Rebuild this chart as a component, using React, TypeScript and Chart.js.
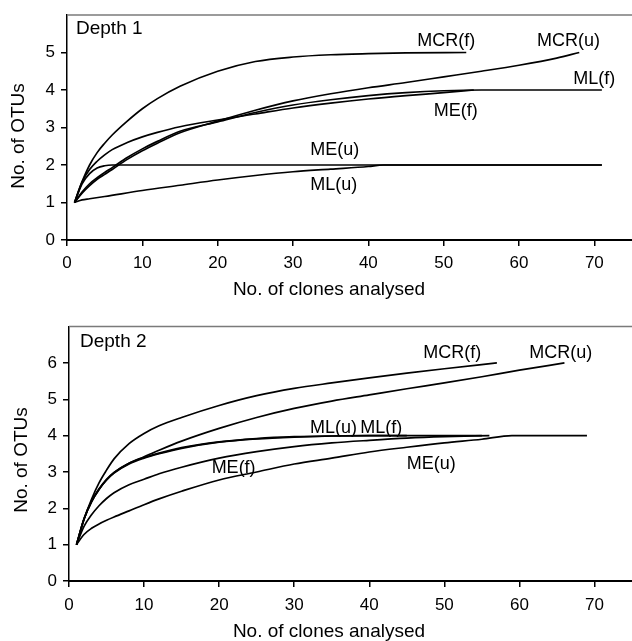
import React, { useEffect, useRef } from 'react';
import { Chart, registerables } from 'chart.js';
Chart.register(...registerables);

const FONT = '"Liberation Sans", Arial, sans-serif';

// ---------- Depth 1 ----------
const d1_MCRf_x = [1, 2, 3, 4, 5, 6, 8, 10, 12, 15, 20, 25, 30, 35, 40, 45, 53];
const d1_MCRf_y = [1, 1.55, 2.0, 2.33, 2.58, 2.8, 3.17, 3.5, 3.77, 4.1, 4.5, 4.76, 4.88, 4.94, 4.97, 4.99, 5];
const d1_MCRu_x = [1, 2, 3, 4, 5, 6, 8, 10, 12, 15, 20, 25, 30, 35, 40, 45, 50, 55, 60, 65, 68];
const d1_MCRu_y = [1, 1.25, 1.45, 1.62, 1.75, 1.88, 2.15, 2.38, 2.58, 2.86, 3.17, 3.46, 3.71, 3.9, 4.06, 4.2, 4.35, 4.5, 4.66, 4.85, 5];
const d1_MLf_x = [1, 2, 3, 4, 5, 6, 8, 10, 12, 15, 20, 25, 30, 35, 40, 45, 50, 55, 71];
const d1_MLf_y = [1, 1.28, 1.5, 1.66, 1.8, 1.93, 2.2, 2.43, 2.63, 2.9, 3.15, 3.4, 3.6, 3.74, 3.85, 3.93, 3.98, 4, 4];
const d1_MEf_x = [1, 2, 3, 4, 5, 6, 8, 10, 12, 15, 20, 25, 30, 35, 40, 45, 50, 54];
const d1_MEf_y = [1, 1.55, 1.88, 2.1, 2.27, 2.41, 2.6, 2.75, 2.87, 3.02, 3.2, 3.36, 3.52, 3.65, 3.76, 3.85, 3.93, 4];
const d1_MEu_x = [1, 2, 3, 4, 5, 6, 71];
const d1_MEu_y = [1, 1.5, 1.77, 1.92, 1.98, 2, 2];
const d1_MLu_x = [1, 2, 3, 5, 10, 15, 20, 25, 30, 35, 40, 42, 71];
const d1_MLu_y = [1, 1.07, 1.1, 1.16, 1.32, 1.46, 1.6, 1.72, 1.82, 1.89, 1.96, 2, 2];

// ---------- Depth 2 ----------
const d2_MCRf_x = [1, 2, 3, 4, 5, 6, 8, 10, 12, 15, 20, 25, 30, 35, 40, 45, 50, 57];
const d2_MCRf_y = [1, 1.7, 2.25, 2.7, 3.05, 3.36, 3.78, 4.06, 4.27, 4.5, 4.83, 5.1, 5.3, 5.45, 5.59, 5.72, 5.84, 6];
const d2_MCRu_x = [1, 2, 3, 4, 5, 6, 8, 10, 12, 15, 20, 25, 30, 35, 40, 45, 50, 55, 60, 66];
const d2_MCRu_y = [1, 1.7, 2.18, 2.52, 2.78, 2.98, 3.24, 3.42, 3.6, 3.85, 4.2, 4.5, 4.75, 4.95, 5.12, 5.29, 5.45, 5.62, 5.8, 6];
const d2_MLu_x = [1, 2, 3, 4, 5, 6, 8, 10, 12, 15, 20, 25, 30, 35, 40, 45];
const d2_MLu_y = [1, 1.7, 2.18, 2.52, 2.78, 2.97, 3.22, 3.38, 3.5, 3.65, 3.82, 3.91, 3.96, 3.99, 4, 4];
const d2_MLf_x = [1, 2, 3, 4, 5, 6, 8, 10, 12, 15, 20, 25, 30, 35, 40, 55];
const d2_MLf_y = [1, 1.72, 2.2, 2.54, 2.8, 2.99, 3.24, 3.4, 3.52, 3.67, 3.83, 3.92, 3.97, 3.99, 4, 4];
const d2_MEf_x = [1, 2, 3, 4, 5, 6, 8, 10, 12, 15, 20, 25, 30, 35, 40, 45, 50, 56];
const d2_MEf_y = [1, 1.5, 1.82, 2.07, 2.27, 2.43, 2.65, 2.8, 2.95, 3.13, 3.38, 3.56, 3.7, 3.8, 3.87, 3.93, 3.97, 4];
const d2_MEu_x = [1, 2, 3, 4, 5, 6, 8, 10, 12, 15, 20, 25, 30, 35, 40, 45, 50, 55, 59, 69];
const d2_MEu_y = [1, 1.28, 1.45, 1.57, 1.67, 1.76, 1.93, 2.1, 2.26, 2.47, 2.78, 3.0, 3.22, 3.38, 3.55, 3.68, 3.8, 3.9, 4, 4];

// in-plot labels (data units, left / middle anchored)
const d1_labelText = ['MCR(f)', 'MCR(u)', 'ML(f)', 'ME(f)', 'ME(u)', 'ML(u)'];
const d1_labelX = [46.5, 62.4, 67.2, 48.7, 32.3, 32.3];
const d1_labelY = [5.31, 5.31, 4.3, 3.45, 2.39, 1.46];
const d2_labelText = ['MCR(f)', 'MCR(u)', 'ML(u)', 'ML(f)', 'ME(u)', 'ME(f)'];
const d2_labelX = [47.2, 61.3, 32.1, 38.8, 45.0, 19.0];
const d2_labelY = [6.28, 6.28, 4.22, 4.22, 3.23, 3.12];

const X_TITLE = 'No. of clones analysed';
const Y_TITLE = 'No. of OTUs';

function toPts(xs: number[], ys: number[]) {
  return xs.map((x, i) => ({ x, y: ys[i] }));
}

interface PanelSpec {
  series: [number[], number[]][];
  yMax: number;
  yAxisWidth: number;
  xAxisHeight: number;
  padTop: number;
  tickPad: number;
  labelText: string[];
  labelX: number[];
  labelY: number[];
  depth: string;
  depthPos: [number, number];
  xTitlePos: [number, number];
  yTitlePos: [number, number];
}

function makeChart(canvas: HTMLCanvasElement, p: PanelSpec) {
  const annot = {
    id: 'annot',
    afterDraw(chart: any) {
      const { ctx, chartArea, scales } = chart;
      const xs = scales.x;
      const ys = scales.y;
      ctx.save();
      ctx.strokeStyle = '#7a7a7a';
      ctx.lineWidth = 1.5;
      ctx.beginPath();
      ctx.moveTo(chartArea.left, chartArea.top);
      ctx.lineTo(chartArea.right, chartArea.top);
      ctx.stroke();

      ctx.fillStyle = '#000';
      ctx.textBaseline = 'middle';
      ctx.textAlign = 'left';
      ctx.font = `18px ${FONT}`;
      p.labelText.forEach((t, i) => {
        ctx.fillText(t, xs.getPixelForValue(p.labelX[i]), ys.getPixelForValue(p.labelY[i]));
      });
      ctx.font = `19px ${FONT}`;
      ctx.fillText(p.depth, chartArea.left + p.depthPos[0], chartArea.top + p.depthPos[1]);

      ctx.font = `19px ${FONT}`;
      ctx.textAlign = 'center';
      ctx.fillText(X_TITLE, p.xTitlePos[0], p.xTitlePos[1]);
      ctx.translate(p.yTitlePos[0], p.yTitlePos[1]);
      ctx.rotate(-Math.PI / 2);
      ctx.fillText(Y_TITLE, 0, 0);
      ctx.restore();
    },
  };

  return new Chart(canvas, {
    type: 'line',
    data: {
      datasets: p.series.map(([xs, ys]) => ({
        data: toPts(xs, ys),
        borderColor: '#000',
        borderWidth: 1.7,
        pointRadius: 0,
        fill: false,
        cubicInterpolationMode: 'monotone' as const,
      })),
    },
    options: {
      responsive: false,
      animation: false,
      devicePixelRatio: 1,
      layout: { padding: { top: p.padTop, right: 0, left: 0, bottom: 0 } },
      plugins: { legend: { display: false }, tooltip: { enabled: false } },
      scales: {
        x: {
          type: 'linear',
          min: 0,
          max: 75,
          ticks: {
            stepSize: 10,
            includeBounds: false,
            color: '#000',
            font: { family: FONT, size: 17 },
            padding: p.tickPad,
            maxRotation: 0,
          },
          grid: { display: true, drawOnChartArea: false, drawTicks: true, tickLength: 6, color: '#000', lineWidth: 1.5 },
          border: { display: true, color: '#000', width: 2 },
          afterFit: (s: any) => { s.height = p.xAxisHeight; },
        },
        y: {
          type: 'linear',
          min: 0,
          max: p.yMax,
          ticks: {
            stepSize: 1,
            color: '#000',
            font: (c: any) => ({ family: FONT, size: c.tick && c.tick.value === p.yMax ? 1 : 17 }),
            padding: 6,
            callback: (v: any) => (v === p.yMax ? '' : String(v)),
          },
          grid: {
            display: true,
            drawOnChartArea: false,
            drawTicks: true,
            tickLength: 6,
            lineWidth: 1.5,
            color: (c: any) => (c.tick && c.tick.value === p.yMax ? 'rgba(0,0,0,0)' : '#000'),
          },
          border: { display: true, color: '#000', width: 1.5 },
          afterFit: (s: any) => { s.width = p.yAxisWidth; },
        },
      },
    } as any,
    plugins: [annot],
  });
}

function Panel({ spec, height }: { spec: PanelSpec; height: number }) {
  const ref = useRef<HTMLCanvasElement>(null);
  useEffect(() => {
    if (!ref.current) return;
    const c = makeChart(ref.current, spec);
    return () => c.destroy();
  }, []);
  return <canvas ref={ref} width={632} height={height} style={{ display: 'block', width: 632, height }} />;
}

const top: PanelSpec = {
  series: [
    [d1_MCRf_x, d1_MCRf_y],
    [d1_MCRu_x, d1_MCRu_y],
    [d1_MLf_x, d1_MLf_y],
    [d1_MEf_x, d1_MEf_y],
    [d1_MEu_x, d1_MEu_y],
    [d1_MLu_x, d1_MLu_y],
  ],
  yMax: 6,
  yAxisWidth: 67,
  xAxisHeight: 80,
  padTop: 15,
  tickPad: 7,
  labelText: d1_labelText,
  labelX: d1_labelX,
  labelY: d1_labelY,
  depth: 'Depth 1',
  depthPos: [9, 14],
  xTitlePos: [329, 290],
  yTitlePos: [19, 136],
};

const bottom: PanelSpec = {
  series: [
    [d2_MCRf_x, d2_MCRf_y],
    [d2_MCRu_x, d2_MCRu_y],
    [d2_MLu_x, d2_MLu_y],
    [d2_MLf_x, d2_MLf_y],
    [d2_MEf_x, d2_MEf_y],
    [d2_MEu_x, d2_MEu_y],
  ],
  yMax: 7,
  yAxisWidth: 69,
  xAxisHeight: 60,
  padTop: 6,
  tickPad: 8,
  labelText: d2_labelText,
  labelX: d2_labelX,
  labelY: d2_labelY,
  depth: 'Depth 2',
  depthPos: [11, 15],
  xTitlePos: [329, 312],
  yTitlePos: [22, 140],
};

export default function App() {
  return (
    <div style={{ position: 'absolute', left: 0, top: 0, width: 632, height: 641, background: '#fff' }}>
      <Panel spec={top} height={320} />
      <Panel spec={bottom} height={321} />
    </div>
  );
}
